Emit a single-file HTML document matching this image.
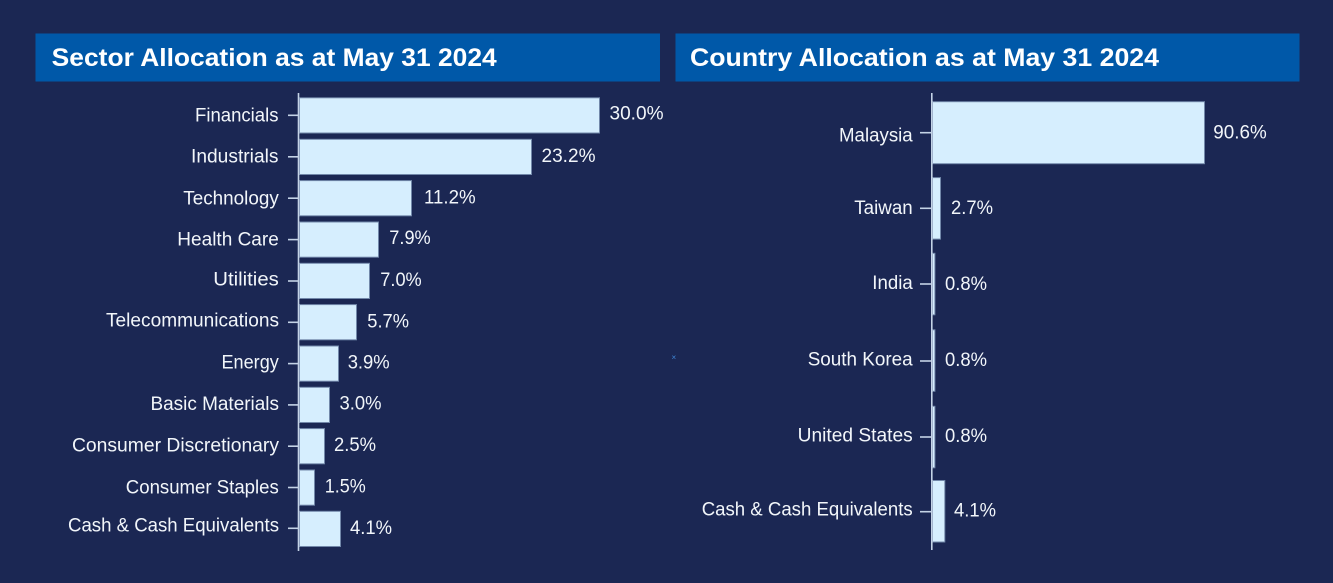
<!DOCTYPE html>
<html>
<head>
<meta charset="utf-8">
<style>
  html, body { margin: 0; padding: 0; background: #1b2753; }
  svg { display: block; }
  text { font-family: "Liberation Sans", Arial, sans-serif; fill: #f2f6fa; }
  .t { font-weight: bold; font-size: 25px; fill: #ffffff; }
  .l { font-size: 19px; }
  .bar { fill: #d6eefe; stroke: #7288aa; stroke-width: 1; }
  .ax { stroke: #c4d3e6; stroke-width: 1.6; }
</style>
</head>
<body>
<svg width="1333" height="583" viewBox="0 0 1333 583" xmlns="http://www.w3.org/2000/svg">
  <rect x="0" y="0" width="1333" height="583" fill="#1b2753"/>

  <!-- Headers -->
  <rect x="35.5" y="33.5" width="624.5" height="48" fill="#0058a8"/>
  <rect x="675.5" y="33.5" width="624" height="48" fill="#0058a8"/>
  <text class="t" x="51.7" y="66" textLength="445" lengthAdjust="spacingAndGlyphs">Sector Allocation as at May 31 2024</text>
  <text class="t" x="690" y="66" textLength="469" lengthAdjust="spacingAndGlyphs">Country Allocation as at May 31 2024</text>

  <!-- tiny mark -->
  <text x="671.5" y="360" style="font-size:8px;fill:#3f86d6">×</text>

  <!-- LEFT CHART -->
  <rect class="bar" x="299.5" y="97.8" width="300" height="35.2"/>
  <rect class="bar" x="299.5" y="139.3" width="232" height="35.2"/>
  <rect class="bar" x="299.5" y="180.6" width="112" height="35.2"/>
  <rect class="bar" x="299.5" y="222" width="79" height="35.2"/>
  <rect class="bar" x="299.5" y="263.3" width="70" height="35.2"/>
  <rect class="bar" x="299.5" y="304.6" width="57" height="35.2"/>
  <rect class="bar" x="299.5" y="346" width="39" height="35.2"/>
  <rect class="bar" x="299.5" y="387.3" width="30" height="35.2"/>
  <rect class="bar" x="299.5" y="428.6" width="25" height="35.2"/>
  <rect class="bar" x="299.5" y="470" width="15" height="35.2"/>
  <rect class="bar" x="299.5" y="511.3" width="41" height="35.2"/>

  <line class="ax" x1="298.5" y1="93" x2="298.5" y2="551"/>
  <g class="ax">
    <line x1="288" y1="115.3" x2="298" y2="115.3"/>
    <line x1="288" y1="156.8" x2="298" y2="156.8"/>
    <line x1="288" y1="198.2" x2="298" y2="198.2"/>
    <line x1="288" y1="239.6" x2="298" y2="239.6"/>
    <line x1="288" y1="281" x2="298" y2="281"/>
    <line x1="288" y1="322.3" x2="298" y2="322.3"/>
    <line x1="288" y1="363.6" x2="298" y2="363.6"/>
    <line x1="288" y1="404.9" x2="298" y2="404.9"/>
    <line x1="288" y1="446.2" x2="298" y2="446.2"/>
    <line x1="288" y1="487.5" x2="298" y2="487.5"/>
    <line x1="288" y1="528.3" x2="298" y2="528.3"/>
  </g>

  <text class="l" x="195" y="121.7" textLength="83.5" lengthAdjust="spacingAndGlyphs">Financials</text>
  <text class="l" x="191" y="162.3" textLength="87.5" lengthAdjust="spacingAndGlyphs">Industrials</text>
  <text class="l" x="183.3" y="204.5" textLength="95.5" lengthAdjust="spacingAndGlyphs">Technology</text>
  <text class="l" x="177.3" y="245.7" textLength="101.5" lengthAdjust="spacingAndGlyphs">Health Care</text>
  <text class="l" x="213.3" y="285.7" textLength="65.5" lengthAdjust="spacingAndGlyphs">Utilities</text>
  <text class="l" x="106" y="326.7" textLength="173" lengthAdjust="spacingAndGlyphs">Telecommunications</text>
  <text class="l" x="221.5" y="368.5" textLength="57.3" lengthAdjust="spacingAndGlyphs">Energy</text>
  <text class="l" x="150.5" y="409.8" textLength="128.5" lengthAdjust="spacingAndGlyphs">Basic Materials</text>
  <text class="l" x="72" y="451.5" textLength="207" lengthAdjust="spacingAndGlyphs">Consumer Discretionary</text>
  <text class="l" x="125.8" y="493.3" textLength="153" lengthAdjust="spacingAndGlyphs">Consumer Staples</text>
  <text class="l" x="68" y="531.5" textLength="211" lengthAdjust="spacingAndGlyphs">Cash &amp; Cash Equivalents</text>

  <text class="l" x="609.5" y="119.5" textLength="54" lengthAdjust="spacingAndGlyphs">30.0%</text>
  <text class="l" x="541.5" y="162" textLength="54" lengthAdjust="spacingAndGlyphs">23.2%</text>
  <text class="l" x="424" y="203.3" textLength="51.7" lengthAdjust="spacingAndGlyphs">11.2%</text>
  <text class="l" x="389.3" y="243.8" textLength="41.4" lengthAdjust="spacingAndGlyphs">7.9%</text>
  <text class="l" x="380.3" y="286" textLength="41.4" lengthAdjust="spacingAndGlyphs">7.0%</text>
  <text class="l" x="367.3" y="327.3" textLength="41.7" lengthAdjust="spacingAndGlyphs">5.7%</text>
  <text class="l" x="347.7" y="368.3" textLength="42" lengthAdjust="spacingAndGlyphs">3.9%</text>
  <text class="l" x="339.5" y="409.5" textLength="42" lengthAdjust="spacingAndGlyphs">3.0%</text>
  <text class="l" x="334" y="451" textLength="42" lengthAdjust="spacingAndGlyphs">2.5%</text>
  <text class="l" x="324.8" y="492.5" textLength="41" lengthAdjust="spacingAndGlyphs">1.5%</text>
  <text class="l" x="350" y="534" textLength="42" lengthAdjust="spacingAndGlyphs">4.1%</text>

  <!-- RIGHT CHART -->
  <rect class="bar" x="932.5" y="101.7" width="272" height="62"/>
  <rect class="bar" x="932.5" y="177.6" width="8" height="61.5"/>
  <rect class="bar" x="932.5" y="253.3" width="2.4" height="61.5"/>
  <rect class="bar" x="932.5" y="329.8" width="2.4" height="61.5"/>
  <rect class="bar" x="932.5" y="406.3" width="2.4" height="61.5"/>
  <rect class="bar" x="932.5" y="480.5" width="12.3" height="61.5"/>

  <line class="ax" x1="931.8" y1="93" x2="931.8" y2="550"/>
  <g class="ax">
    <line x1="920" y1="132.7" x2="931" y2="132.7"/>
    <line x1="920" y1="208.3" x2="931" y2="208.3"/>
    <line x1="920" y1="284" x2="931" y2="284"/>
    <line x1="920" y1="361" x2="931" y2="361"/>
    <line x1="920" y1="437" x2="931" y2="437"/>
    <line x1="920" y1="511.7" x2="931" y2="511.7"/>
  </g>

  <text class="l" x="839" y="141.5" textLength="73.7" lengthAdjust="spacingAndGlyphs">Malaysia</text>
  <text class="l" x="854.3" y="214" textLength="58.4" lengthAdjust="spacingAndGlyphs">Taiwan</text>
  <text class="l" x="872.3" y="289" textLength="40.4" lengthAdjust="spacingAndGlyphs">India</text>
  <text class="l" x="807.7" y="365.7" textLength="105" lengthAdjust="spacingAndGlyphs">South Korea</text>
  <text class="l" x="797.7" y="441.7" textLength="115" lengthAdjust="spacingAndGlyphs">United States</text>
  <text class="l" x="701.7" y="515.7" textLength="211" lengthAdjust="spacingAndGlyphs">Cash &amp; Cash Equivalents</text>

  <text class="l" x="1213.3" y="138.3" textLength="53.4" lengthAdjust="spacingAndGlyphs">90.6%</text>
  <text class="l" x="951" y="214" textLength="42" lengthAdjust="spacingAndGlyphs">2.7%</text>
  <text class="l" x="945" y="290" textLength="42" lengthAdjust="spacingAndGlyphs">0.8%</text>
  <text class="l" x="945" y="366" textLength="42" lengthAdjust="spacingAndGlyphs">0.8%</text>
  <text class="l" x="945" y="442" textLength="42" lengthAdjust="spacingAndGlyphs">0.8%</text>
  <text class="l" x="954" y="516.7" textLength="42" lengthAdjust="spacingAndGlyphs">4.1%</text>
</svg>
</body>
</html>
